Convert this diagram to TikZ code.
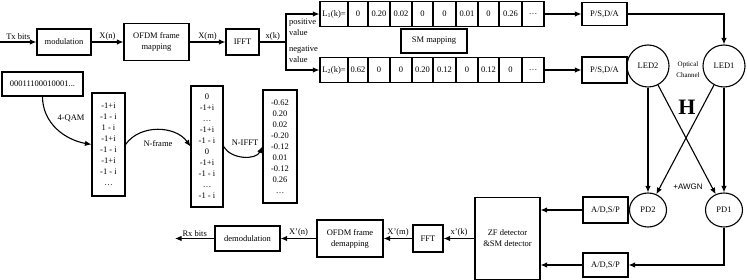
\documentclass[tikz,border=0pt]{standalone}
\usepackage{fontspec}
\setmainfont{Liberation Serif}
\setsansfont{Liberation Sans}
\usetikzlibrary{arrows.meta, shapes.geometric}

\begin{document}
\begin{tikzpicture}[
                x = 1pt, y = 1pt,
                block/.style = {
                    rectangle,
                    draw            = black,
                    line width      = 1.1pt,
                    align           = center,
                    inner sep       = 0pt,
                    font            = \fontsize{8.5}{11}\selectfont
                },
                cell/.style = {
                    block,
                    minimum height  = 25pt
                },
                oval/.style = {
                    ellipse,
                    draw            = black,
                    line width      = 1.1pt,
                    inner sep       = 0pt,
                    font            = \fontsize{8.5}{11}\selectfont
                },
                lbl/.style = {
                    inner sep       = 1.5pt,
                    align           = left,
                    font            = \fontsize{8.5}{11}\selectfont
                },
                flow/.style = {-{Latex[length=6.5pt, width=5.5pt]}, line width = 1.1pt}
            ]
                \useasboundingbox (0, 0) rectangle (747, -280);

                % transmitter chain
                \coordinate (tx) at (0, -42);
                \node[block, minimum width = 54pt, minimum height = 26pt] (mod) at (64, -42) {modulation};
                \node[block, minimum width = 65pt, minimum height = 37pt] (ofdm) at (156.5, -42) {OFDM frame\\mapping};
                \node[block, minimum width = 33pt, minimum height = 26pt] (ifft) at (242.5, -42) {IFFT};
                \coordinate (br) at (286, -42);

                \draw[flow] (tx) -- node[lbl, above] (txl) {Tx bits} (mod);
                \draw[flow] (mod) -- node[lbl, above] (xn) {X(n)} (ofdm);
                \draw[flow] (ofdm) -- node[lbl, above] (xm) {X(m)} (ifft);
                \draw[line width = 1.1pt] (ifft) -- node[lbl, above] (xk) {x(k)} (br);

                \node[lbl, anchor = west] (pos) at (287.5, -27.5) {positive\\value};
                \node[lbl, anchor = west] (neg) at (287.5, -54.5) {negative\\value};

                % positive and negative parts
                \foreach \xa/\xb/\val [count=\i] in {320/348/{L\textsubscript{1}(k)=}, 348/368/0, 368/390/0.20,
                        390/412/0.02, 412/433/0, 433/456/0, 456/478/0.01, 478/499/0, 499/522/0.26, 522/544/{\ldots}}
                    \node[cell, minimum width = \xb-\xa] (p\i) at ({(\xa+\xb)/2}, -14) {\val};
                \foreach \xa/\xb/\val [count=\i] in {320/348/{L\textsubscript{2}(k)=}, 348/368/0.62, 368/390/0,
                        390/412/0, 412/433/0.20, 433/456/0.12, 456/478/0, 478/499/0.12, 499/522/0, 522/544/{\ldots}}
                    \node[cell, minimum width = \xb-\xa] (n\i) at ({(\xa+\xb)/2}, -70) {\val};

                \node[block, minimum width = 66pt, minimum height = 24pt] (smmap) at (434, -41) {SM mapping};

                \draw[flow] (br) |- (p1);
                \draw[flow] (br) |- (n1);

                \node[block, minimum width = 45pt, minimum height = 23pt] (psp) at (604.5, -14) {P/S,D/A};
                \node[block, minimum width = 45pt, minimum height = 26pt] (psn) at (604.5, -70) {P/S,D/A};
                \draw[flow] (p10) -- (psp);
                \draw[flow] (n10) -- (psn);

                % optical channel
                \node[oval, minimum width = 42pt, minimum height = 42pt] (led2) at (648, -66) {LED2};
                \node[oval, minimum width = 42pt, minimum height = 42pt] (led1) at (724, -66) {LED1};
                \node[align = center, inner sep = 0pt, font = \fontsize{7}{11}\selectfont] (optc) at (688, -70) {Optical\\Channel};
                \draw[flow] (psp) -| (led1);

                \node[oval, minimum width = 37pt, minimum height = 34pt] (pd2) at (648, -210) {PD2};
                \node[oval, minimum width = 37pt, minimum height = 34pt] (pd1) at (724, -210) {PD1};
                \draw[flow] (led2) -- (pd2);
                \draw[flow] (led2) -- (pd1);
                \draw[flow] (led1) -- (pd1);
                \draw[flow] (led1) -- (pd2);
                \node[font = \bfseries\fontsize{22}{22}\selectfont, inner sep = 0pt] (hmat) at (687, -107) {H};
                \node[font = \sffamily\fontsize{8}{10}\selectfont, inner sep = 0pt] (awgn) at (688, -187) {+AWGN};

                % receiver chain
                \node[block, minimum width = 45pt, minimum height = 26pt] (ad2) at (605.5, -210) {A/D,S/P};
                \node[block, minimum width = 45pt, minimum height = 24pt] (ad1) at (605.5, -265) {A/D,S/P};
                \node[block, minimum width = 65pt, minimum height = 82pt] (zf) at (507.5, -238.5) {ZF detector\\\&SM detector};
                \draw[flow] (ad2) -- (ad2 -| zf.east);
                \draw[flow] (ad1) -- (ad1 -| zf.east);
                \draw[flow] (pd1) |- (ad1);

                \node[block, minimum width = 30pt, minimum height = 27pt] (fft) at (428, -238.5) {FFT};
                \node[block, minimum width = 66pt, minimum height = 37pt] (dmap) at (350, -238.5) {OFDM frame\\demapping};
                \node[block, minimum width = 65pt, minimum height = 25pt] (demod) at (247.5, -238.5) {demodulation};
                \coordinate (rx) at (175, -238.5);

                \draw[flow] (zf) -- node[lbl, above] (xk2) {x'(k)} (fft);
                \draw[flow] (fft) -- node[lbl, above] (xm2) {X'(m)} (dmap);
                \draw[flow] (dmap) -- node[lbl, above] (xn2) {X'(n)} (demod);
                \draw[flow] (demod) -- node[lbl, above] (rxl) {Rx bits} (rx);

                % worked example
                \node[block, minimum width = 81pt, minimum height = 24pt] (bits) at (42.5, -84) {00011100010001...};
                \node[block, minimum width = 33pt, minimum height = 103pt] (qam) at (108.5, -144.5)
                    {-1+i\\-1 - i\\1 - i\\-1+i\\-1 - i\\-1+i\\-1 - i\\\ldots};
                \node[block, minimum width = 32pt, minimum height = 121pt] (frame) at (207, -146.5)
                    {0\\-1+i\\\ldots\\-1+i\\-1 - i\\0\\-1+i\\-1 - i\\\ldots\\-1 - i};
                \node[block, minimum width = 34pt, minimum height = 113pt] (sig) at (280, -146.5)
                    {-0.62\\0.20\\0.02\\-0.20\\-0.12\\0.01\\-0.12\\0.26\\\ldots};

                \draw[flow] (bits.south) to[out = -90, in = 170] (qam.west);
                \draw[flow] (qam.east) to[out = 55, in = 125] (frame.west);
                \draw[flow] (frame.east) to[out = -60, in = -115] (sig.west);
                \node[lbl] (qaml) at (71, -118) {4-QAM};
                \node[lbl] (nfrl) at (158, -144) {N-frame};
                \node[lbl] (nifftl) at (245, -143) {N-IFFT};
            \end{tikzpicture}
\end{document}
